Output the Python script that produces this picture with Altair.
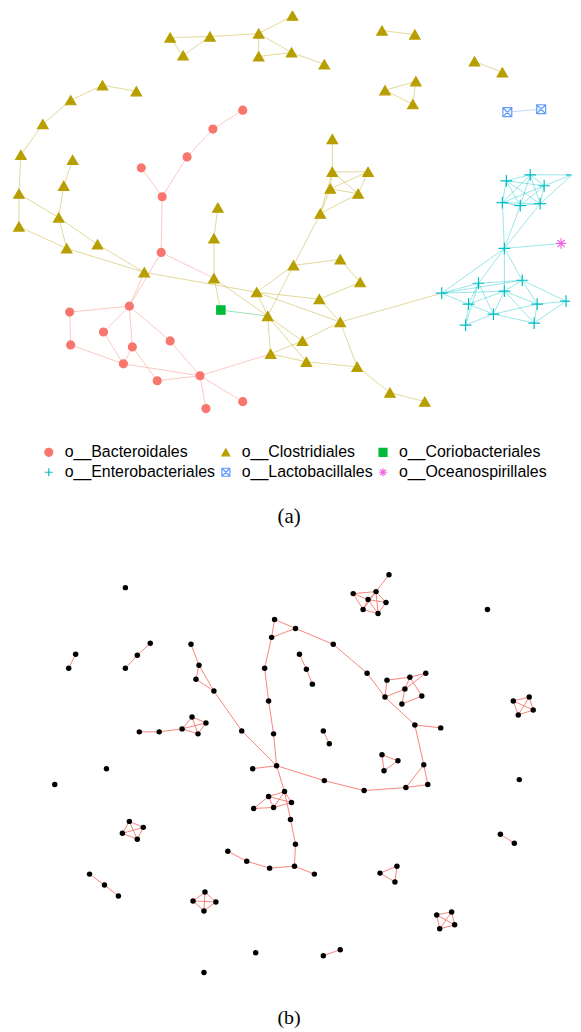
import altair as alt
import pandas as pd

# ---------------- Panel (a): network coloured by order ----------------
GROUPS = ["o__Bacteroidales", "o__Clostridiales", "o__Coriobacteriales",
          "o__Enterobacteriales", "o__Lactobacillales", "o__Oceanospirillales"]
COLORS = ["#F8766D", "#B79F00", "#00BA38", "#00BFC4", "#619CFF", "#F564E3"]
FILLS = ["#F8766D", "#B79F00", "#00BA38", "transparent", "transparent", "transparent"]
SHAPES = ["circle", "triangle-up", "square",
          "M-1,0L1,0M0,-1L0,1",
          "M-1,-1L1,-1L1,1L-1,1ZM-1,-1L1,1M-1,1L1,-1",
          "M-1,0L1,0M0,-1L0,1M-0.7,-0.7L0.7,0.7M-0.7,0.7L0.7,-0.7"]
SIZES = [64, 110, 70, 140, 80, 110]

a_x = [171, 184, 211, 260, 294, 260, 293, 326, 384, 417, 477, 505, 418, 387, 415,
       103, 137, 71, 43, 21, 19, 73, 64, 19, 59, 67, 98, 145, 219, 215, 215, 258,
       269, 295, 322, 334, 334, 370, 332, 360, 342, 362, 321, 342, 304, 272, 308,
       359, 392, 427,
       244, 214, 188, 142, 163, 162, 130, 70, 71, 104, 133, 171, 124, 158, 201, 207, 244,
       222,
       509, 533, 547, 575, 505, 523, 543, 507, 444, 481, 525, 507, 471, 496, 540, 569,
       468, 537,
       510, 544,
       564]
a_y = [35, 53, 34, 31, 13, 54, 50, 62, 28, 32, 59, 70, 79, 88, 102,
       83, 89, 98, 122, 153, 192, 158, 184, 225, 216, 247, 243, 271, 206, 237, 277, 291,
       315, 264, 212, 137, 170, 170, 187, 192, 258, 281, 298, 321, 340, 353, 361,
       366, 392, 401,
       108, 127, 155, 166, 195, 251, 305, 311, 344, 331, 346, 340, 363, 380, 375, 408, 401,
       309,
       179, 173, 184, 173, 201, 204, 202, 247, 292, 282, 279, 290, 303, 313, 303, 300,
       324, 322,
       110, 107,
       242]
a_group = ([GROUPS[1]] * 50 + [GROUPS[0]] * 17 + [GROUPS[2]] * 1 +
           [GROUPS[3]] * 18 + [GROUPS[4]] * 2 + [GROUPS[5]] * 1)

a_edges = [
    (0, 1), (1, 2), (0, 2), (2, 3), (3, 4), (3, 5), (3, 6), (5, 6), (6, 7), (8, 9),
    (10, 11), (12, 13), (13, 14), (12, 14), (16, 15), (15, 17), (17, 18), (18, 19),
    (19, 20), (20, 23), (20, 24), (21, 22), (22, 24), (24, 25), (24, 26), (26, 27),
    (23, 25), (25, 27), (27, 31), (31, 42), (31, 43), (28, 29), (29, 30), (30, 32),
    (30, 67), (31, 32), (31, 33), (33, 34), (33, 32), (34, 39), (34, 36), (34, 38),
    (35, 36), (36, 37), (36, 38), (36, 39), (37, 38), (37, 39), (38, 39), (33, 40),
    (40, 41), (41, 42), (42, 43), (43, 44), (43, 47), (44, 45), (32, 44), (32, 45),
    (32, 46), (45, 46), (46, 47), (47, 48), (48, 49), (43, 76),
    (50, 51), (51, 52), (52, 54), (53, 54), (54, 55), (55, 56), (56, 27), (55, 30),
    (56, 57), (57, 58), (58, 62), (56, 59), (59, 62), (56, 60), (60, 62), (60, 63),
    (56, 61), (61, 64), (62, 64), (63, 64), (64, 65), (64, 66), (64, 45),
    (67, 32),
    (86, 87),
    (68, 69), (68, 70), (68, 72), (68, 73), (68, 74), (69, 70), (69, 72), (69, 73),
    (69, 74), (70, 72), (70, 73), (70, 74), (72, 73), (72, 74), (73, 74), (71, 69),
    (71, 70), (71, 74), (75, 72), (75, 73), (75, 74), (75, 88),
    (75, 76), (75, 77), (75, 79), (75, 78), (76, 77), (76, 78), (76, 79), (76, 80),
    (77, 78), (77, 80), (77, 84), (77, 81), (79, 78), (79, 80), (79, 81), (79, 82),
    (79, 85), (78, 82), (78, 83), (80, 81), (80, 84), (81, 84), (81, 82), (82, 83),
    (82, 85), (83, 85), (81, 85),
]

b_x = [126, 490, 107, 55, 522, 257, 205, 76, 69, 325, 331, 503, 517, 325, 342,
       151, 138, 126, 301, 308, 314, 90, 105, 119, 384, 400, 386, 382, 399, 397,
       516, 532, 521, 536, 130, 144, 123, 138, 206, 194, 217, 205, 439, 454, 442, 457,
       140, 160, 183, 193, 207, 199, 391, 378, 355, 370, 388, 365, 380,
       192, 200, 197, 215, 243, 278, 254, 276, 297, 273, 266, 270, 275,
       335, 369, 387, 417, 443, 426, 430, 408, 366, 326,
       389, 412, 428, 407, 404, 424,
       286, 270, 293, 255, 275, 292, 297, 296, 316, 271, 248, 229]
b_y = [588, 610, 770, 786, 781, 955, 975, 655, 669, 732, 745, 836, 845, 958, 952,
       644, 656, 669, 655, 670, 685, 876, 887, 898, 756, 762, 772, 875, 868, 884,
       702, 698, 716, 711, 823, 829, 835, 841, 894, 903, 904, 913, 917, 914, 931, 927,
       733, 733, 730, 718, 724, 735, 575, 592, 594, 600, 603, 610, 614,
       645, 666, 680, 692, 732, 767, 770, 620, 629, 638, 669, 702, 735,
       645, 674, 698, 726, 729, 766, 786, 789, 792, 782,
       681, 678, 674, 690, 705, 697,
       793, 798, 804, 810, 809, 821, 846, 868, 876, 870, 863, 853]
b_edges = [
    (7, 8), (9, 10), (11, 12), (13, 14), (15, 16), (16, 17), (18, 19), (19, 20),
    (21, 22), (22, 23), (24, 25), (25, 26), (24, 26), (27, 28), (28, 29), (27, 29),
    (30, 31), (30, 32), (30, 33), (31, 32), (31, 33), (32, 33),
    (34, 35), (34, 36), (34, 37), (35, 36), (35, 37), (36, 37),
    (38, 39), (38, 40), (38, 41), (39, 40), (39, 41), (40, 41),
    (42, 43), (42, 44), (42, 45), (43, 44), (43, 45), (44, 45),
    (46, 47), (47, 48), (48, 49), (48, 50), (48, 51), (49, 50), (49, 51), (50, 51),
    (52, 53), (54, 53), (54, 55), (54, 57), (53, 55), (53, 56), (53, 58), (53, 57),
    (55, 56), (55, 57), (55, 58), (56, 58), (57, 58),
    (59, 60), (60, 61), (61, 62), (60, 62), (62, 63), (63, 64), (65, 64),
    (66, 67), (66, 68), (68, 67), (68, 69), (69, 70), (70, 71), (71, 64),
    (67, 72), (72, 73), (73, 74), (74, 75), (75, 76), (75, 77), (77, 78), (77, 79),
    (79, 78), (79, 80), (80, 81), (81, 64),
    (82, 83), (83, 84), (82, 74), (74, 85), (85, 83), (85, 86), (86, 87), (87, 83),
    (84, 85),
    (64, 88), (88, 93), (93, 94), (94, 95), (95, 96), (95, 97), (97, 98), (98, 99),
    (89, 88), (89, 91), (89, 92), (88, 92), (88, 90), (92, 90), (91, 92), (89, 90),
]

# ---------------- tables ----------------
color_of = dict(zip(GROUPS, COLORS))
size_of = dict(zip(GROUPS, SIZES))

nodes_a = pd.DataFrame({"x": a_x, "y": a_y, "group": a_group,
                        "sz": [size_of[g] for g in a_group]})
edges_a = pd.DataFrame({
    "x": [a_x[s] for s, t in a_edges], "y": [a_y[s] for s, t in a_edges],
    "x2": [a_x[t] for s, t in a_edges], "y2": [a_y[t] for s, t in a_edges],
    "ecolor": [color_of[a_group[s]] for s, t in a_edges],
})
nodes_b = pd.DataFrame({"x": b_x, "y": b_y})
edges_b = pd.DataFrame({
    "x": [b_x[s] for s, t in b_edges], "y": [b_y[s] for s, t in b_edges],
    "x2": [b_x[t] for s, t in b_edges], "y2": [b_y[t] for s, t in b_edges],
})

sx = alt.Scale(domain=[8, 573], nice=False, zero=False)
sya = alt.Scale(domain=[8, 420], reverse=True, nice=False, zero=False)
syb = alt.Scale(domain=[565, 985], reverse=True, nice=False, zero=False)

stroke_scale = alt.Scale(domain=GROUPS, range=COLORS)
fill_scale = alt.Scale(domain=GROUPS, range=FILLS)
shape_scale = alt.Scale(domain=GROUPS, range=SHAPES)

leg = alt.Legend(
    orient="none", legendX=33, legendY=436, columns=3, direction="horizontal",
    title=None,
    labelFont="Arial", labelFontSize=16, labelColor="#000000",
    labelOffset=8, columnPadding=2, rowPadding=4, padding=0,
    symbolSize=64, symbolStrokeWidth=1.2, symbolOpacity=1,
)

edge_layer_a = alt.Chart(edges_a).mark_rule(strokeWidth=1, strokeOpacity=0.4).encode(
    x=alt.X("x:Q", scale=sx, axis=None),
    y=alt.Y("y:Q", scale=sya, axis=None),
    x2="x2:Q", y2="y2:Q",
    color=alt.Color("ecolor:N", scale=None),
)
node_layer_a = alt.Chart(nodes_a).mark_point(opacity=1, strokeWidth=1.2, clip=True).encode(
    x=alt.X("x:Q", scale=sx, axis=None),
    y=alt.Y("y:Q", scale=sya, axis=None),
    shape=alt.Shape("group:N", scale=shape_scale, legend=leg),
    fill=alt.Fill("group:N", scale=fill_scale, legend=leg),
    stroke=alt.Stroke("group:N", scale=stroke_scale, legend=leg),
    size=alt.Size("sz:Q", scale=None),
)
panel_a = alt.layer(edge_layer_a, node_layer_a).properties(
    width=565, height=412,
    title=alt.Title("(a)", orient="bottom", font="Liberation Serif", fontSize=21,
                    fontWeight="normal", color="#000000", offset=86),
)

edge_layer_b = alt.Chart(edges_b).mark_rule(strokeWidth=1, color="#F8766D", opacity=0.9).encode(
    x=alt.X("x:Q", scale=sx, axis=None),
    y=alt.Y("y:Q", scale=syb, axis=None),
    x2="x2:Q", y2="y2:Q",
)
node_layer_b = alt.Chart(nodes_b).mark_circle(color="#000000", size=30, opacity=1).encode(
    x=alt.X("x:Q", scale=sx, axis=None),
    y=alt.Y("y:Q", scale=syb, axis=None),
)
panel_b = alt.layer(edge_layer_b, node_layer_b).properties(
    width=565, height=420,
    title=alt.Title("(b)", orient="bottom", font="Liberation Serif", fontSize=20,
                    fontWeight="normal", color="#000000", offset=26),
)

chart = alt.vconcat(panel_a, panel_b, spacing=38).properties(
    padding=0
).configure_view(stroke=None).resolve_scale(y="independent")

chart.save("out.html", embed_options={"renderer": "svg", "actions": False})
